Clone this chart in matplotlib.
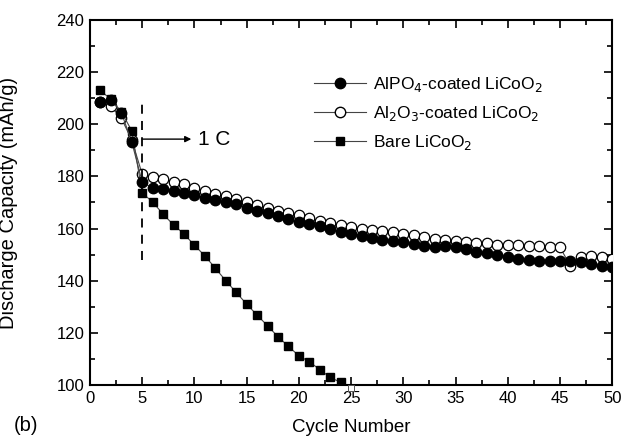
import matplotlib
matplotlib.use("Agg")
import matplotlib.pyplot as plt
from matplotlib.ticker import MultipleLocator
from matplotlib.lines import Line2D

plt.rcParams['font.family'] = ['Liberation Sans', 'DejaVu Sans']

cycles = list(range(1, 51))
alpo4 = [208.7, 209.3, 204.5, 193.2, 177.8, 175.5, 175.0, 174.3, 173.6, 172.8,
         171.9, 171.0, 170.2, 169.3, 168.0, 166.8, 165.8, 164.8, 163.5, 162.4,
         161.7, 160.8, 160.0, 158.8, 157.9, 157.2, 156.4, 155.6, 155.2, 154.7,
         154.0, 153.4, 153.1, 153.4, 152.8, 152.0, 151.1, 150.5, 149.8, 149.2,
         148.5, 147.9, 147.6, 147.5, 147.4, 147.6, 147.0, 146.4, 145.7, 145.2]
al2o3 = [208.5, 207.0, 202.3, 194.0, 180.8, 179.6, 179.0, 177.9, 177.0, 175.6,
         174.5, 173.3, 172.3, 171.3, 170.0, 169.0, 168.0, 166.8, 166.1, 165.3,
         164.2, 162.7, 162.0, 161.3, 160.4, 159.8, 159.5, 159.0, 158.5, 157.9,
         157.5, 156.6, 155.9, 155.7, 155.3, 154.7, 154.4, 154.3, 153.8, 153.8,
         153.6, 153.4, 153.4, 153.1, 152.8, 145.7, 148.9, 149.5, 149.2, 148.5]
bare_cycles = list(range(1, 25))
bare = [213.0, 209.5, 204.8, 197.5, 173.6, 170.2, 165.5, 161.4, 157.9, 153.6,
        149.5, 144.8, 140.0, 135.5, 131.0, 126.8, 122.7, 118.5, 114.8, 111.2,
        108.9, 105.9, 102.9, 101.0]
bare_tail_cycle = [25]
bare_tail = [98.8]

labels = [r'AlPO$_4$-coated LiCoO$_2$', r'Al$_2$O$_3$-coated LiCoO$_2$', r'Bare LiCoO$_2$']

fig = plt.figure(figsize=(6.22, 4.44), dpi=100)
ax = fig.add_axes([0.1447, 0.133, 0.8395, 0.822])

lc = '#444444'
ax.plot(cycles, al2o3, '-', color=lc, lw=0.8, marker='o', ms=7.5, mfc='white',
        mec='black', mew=0.9, zorder=3)
ax.plot(bare_cycles, bare, '-', color=lc, lw=0.8, marker='s', ms=5.5, mfc='black',
        mec='black', zorder=4)
ax.plot(bare_tail_cycle, bare_tail, linestyle='none', marker='s', ms=4.5, mfc='white',
        mec='#555555', mew=0.7, clip_on=False, zorder=4)
ax.plot(cycles, alpo4, '-', color=lc, lw=0.8, marker='o', ms=7.5, mfc='black',
        mec='black', zorder=5)

# 1 C marker
ax.plot([5, 5], [148, 209], linestyle=(0, (5, 4)), color='black', lw=1.3, zorder=6)
ax.annotate('', xy=(9.7, 194.3), xytext=(5, 194.3),
            arrowprops=dict(arrowstyle='-|>', color='black', lw=1.0,
                            mutation_scale=9, shrinkA=0, shrinkB=0))
ax.text(10.3, 194.3, '1 C', fontsize=15, va='center', ha='left')

ax.set_xlim(0, 50)
ax.set_ylim(100, 240)
ax.xaxis.set_major_locator(MultipleLocator(5))
ax.xaxis.set_minor_locator(MultipleLocator(2.5))
ax.yaxis.set_major_locator(MultipleLocator(20))
ax.yaxis.set_minor_locator(MultipleLocator(10))
ax.tick_params(which='both', direction='in', top=True, right=True, labelsize=12,
               width=1.2)
ax.tick_params(which='major', length=6, pad=4)
ax.tick_params(which='minor', length=3.5)
for s in ax.spines.values():
    s.set_linewidth(1.5)

ax.set_xlabel('Cycle Number', fontsize=13.5, labelpad=10)
ax.set_ylabel('Discharge Capacity (mAh/g)', fontsize=14.5)
ax.yaxis.set_label_coords(-0.137, 0.5)
fig.text(0.022, 0.03, '(b)', fontsize=14.5)

h1 = Line2D([], [], color=lc, lw=0.8, marker='o', ms=7.5, mfc='black', mec='black')
h2 = Line2D([], [], color=lc, lw=0.8, marker='o', ms=7.5, mfc='white', mec='black')
h3 = Line2D([], [], color=lc, lw=0.8, marker='s', ms=5.5, mfc='black', mec='black')
ax.legend([h1, h2, h3], labels, loc='upper left', bbox_to_anchor=(0.415, 0.868),
          frameon=False, fontsize=12.5, handlelength=3.0, handletextpad=0.4,
          labelspacing=0.58, borderaxespad=0)

fig.savefig('out.png', dpi=100)
